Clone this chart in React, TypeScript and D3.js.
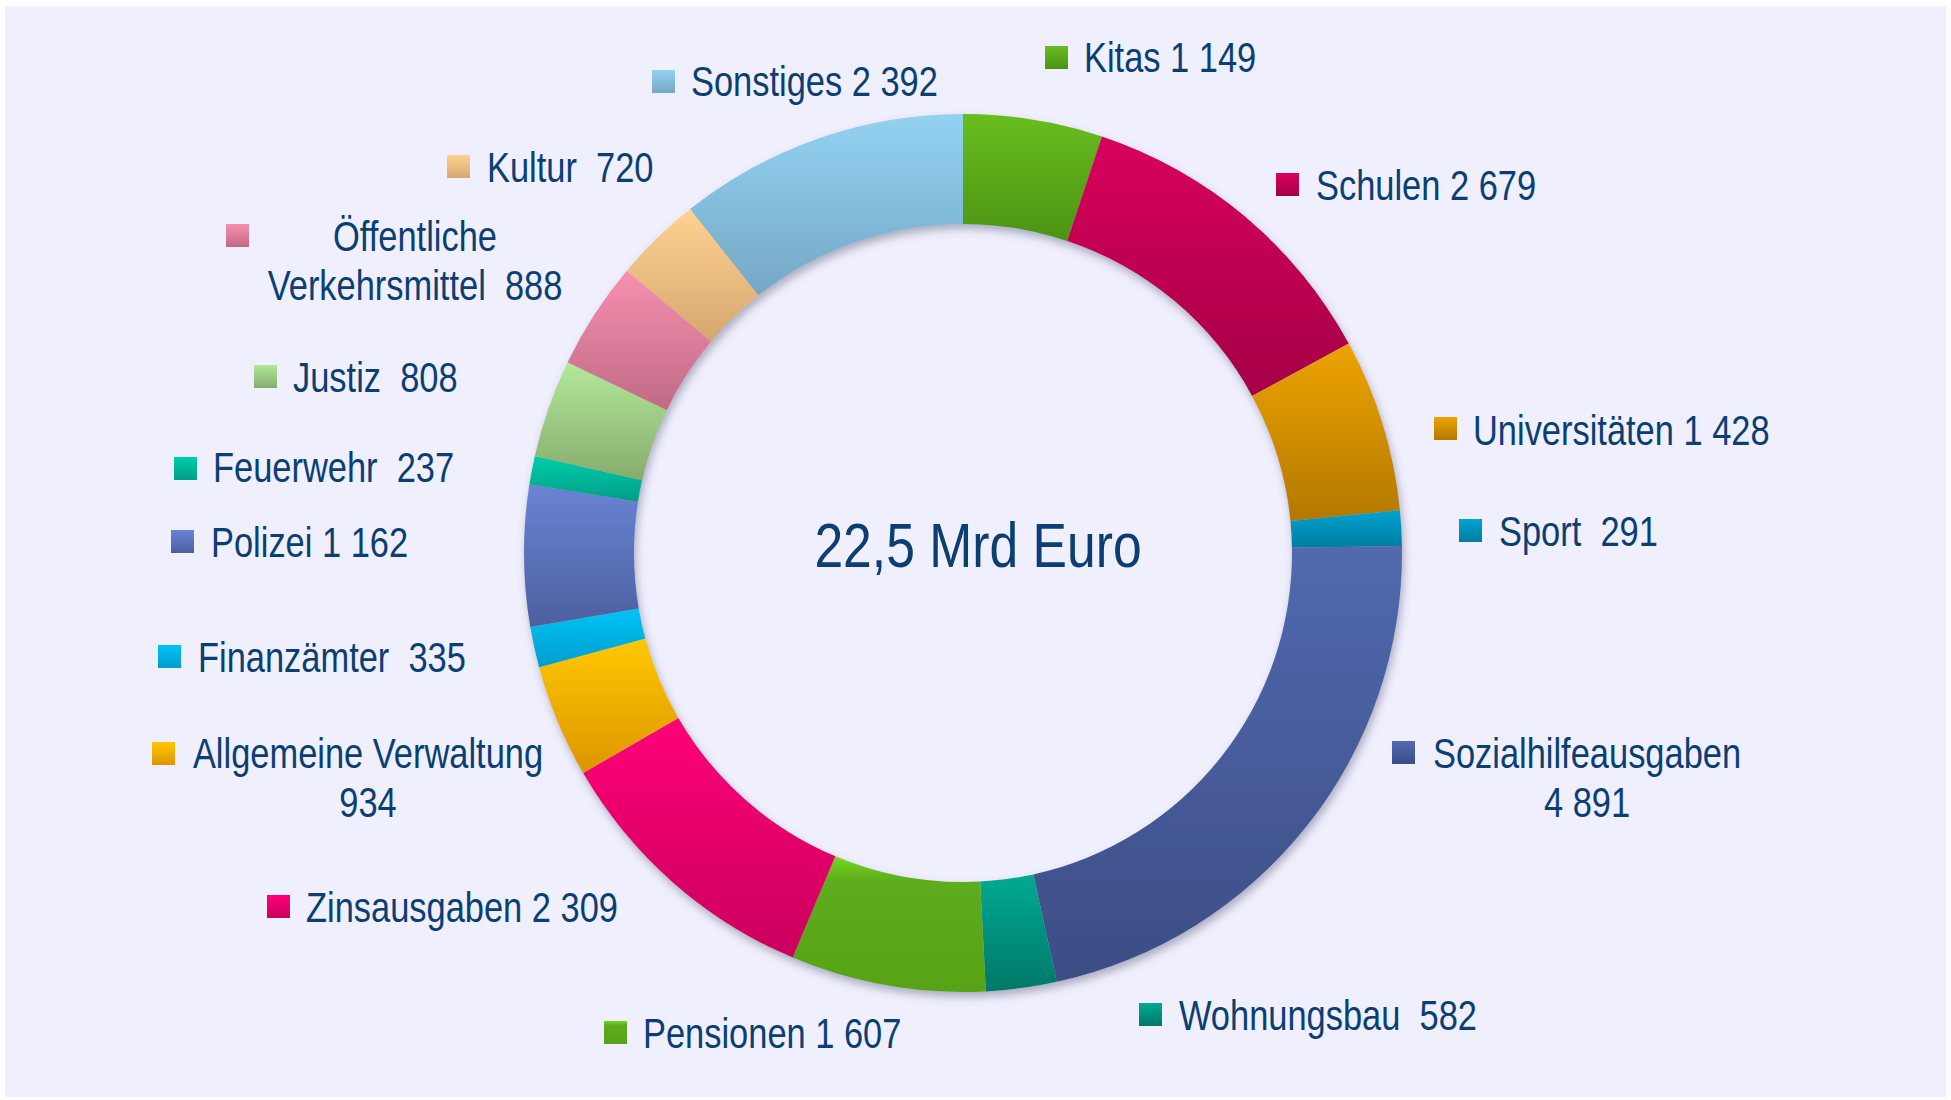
import React from 'react';
import * as d3 from 'd3';

// Haushalt, Ausgaben in Mio Euro (clockwise from 12 o'clock)
const categories = [
  'Kitas', 'Schulen', 'Universitäten', 'Sport', 'Sozialhilfeausgaben', 'Wohnungsbau',
  'Pensionen', 'Zinsausgaben', 'Allgemeine Verwaltung', 'Finanzämter', 'Polizei',
  'Feuerwehr', 'Justiz', 'Öffentliche Verkehrsmittel', 'Kultur', 'Sonstiges',
];
const values = [1149, 2679, 1428, 291, 4891, 582, 1607, 2309, 934, 335, 1162, 237, 808, 888, 720, 2392];
const totalLabel = '22,5 Mrd Euro';

// gradient colours, top -> bottom
const colorsTop = [
  '#67be1e', '#d8005d', '#eda300', '#00a3d3', '#5269b0', '#00aa92', '#78d822', '#ff0077',
  '#ffc800', '#00c3f7', '#6984d5', '#00cdaa', '#b3e898', '#f890b0', '#ffd291', '#93d2f2',
];
const colorsBottom = [
  '#4d9313', '#a50046', '#b37800', '#007c9e', '#3c4d84', '#007868', '#57a318', '#c9005d',
  '#dd9500', '#009ecc', '#4d5f9e', '#009e86', '#86ac6e', '#c06a85', '#d5a76f', '#75a7c5',
];
// Pensionen has a short light band at the top, then flat green
const pensionenMid = '#5eac1b';

// manual label placement (square top-left, text anchor, first baseline, words on line 1)
const labelLayout = [
  { sx: 1045, sy: 46, tx: 1084, ty: 72 },
  { sx: 1276, sy: 173, tx: 1316, ty: 200 },
  { sx: 1434, sy: 417, tx: 1473, ty: 445 },
  { sx: 1459, sy: 519, tx: 1499, ty: 546 },
  { sx: 1392, sy: 741, tx: 1587, ty: 768, center: true, breakAfter: 1 },
  { sx: 1139, sy: 1003, tx: 1179, ty: 1030 },
  { sx: 604, sy: 1021, tx: 643, ty: 1048 },
  { sx: 267, sy: 895, tx: 306, ty: 922 },
  { sx: 152, sy: 742, tx: 368, ty: 768, center: true, breakAfter: 2 },
  { sx: 158, sy: 645, tx: 198, ty: 672 },
  { sx: 171, sy: 530, tx: 211, ty: 557 },
  { sx: 174, sy: 457, tx: 213, ty: 482 },
  { sx: 254, sy: 365, tx: 293, ty: 392 },
  { sx: 226, sy: 224, tx: 415, ty: 251, center: true, breakAfter: 1 },
  { sx: 447, sy: 155, tx: 487, ty: 182 },
  { sx: 652, sy: 70, tx: 691, ty: 96 },
];

const width = 1951;
const height = 1100;
const cx = 963;
const cy = 553;
const outerR = 439;
const innerR = 329;
const textColor = '#0b3f74';
const fontFamily = "'Liberation Sans', Arial, sans-serif";
const narrow = 0.82; // Arial Narrow look
const fontSize = 42;
const lineHeight = 49;
const squareSize = 23;

const fmt = d3.formatLocale({ decimal: ',', thousands: ' ', grouping: [3], currency: ['', ' €'] }).format(',d');

const NarrowText = ({ x, y, size, anchor, children }) => (
  <g transform={'translate(' + x + ',' + y + ') scale(' + narrow + ',1)'}>
    <text
      x={0}
      y={0}
      textAnchor={anchor}
      fontFamily={fontFamily}
      fontSize={size}
      fill={textColor}
      style={{ whiteSpace: 'pre' }}
    >
      {children}
    </text>
  </g>
);

const App = () => {
  const data = categories.map((name, i) => ({ name, value: values[i], i }));

  const pie = d3.pie<any>()
    .sort(null)
    .value(d => d.value)
    .startAngle(0)
    .endAngle(2 * Math.PI);

  const arc = d3.arc<any>()
    .innerRadius(innerR)
    .outerRadius(outerR);

  const arcs = pie(data);

  const labelLines = (d, layout) => {
    const sep = d.value < 1000 ? '  ' : ' ';
    const words = d.name.split(' ');
    const num = fmt(d.value);
    if (!layout.breakAfter) return [d.name + sep + num];
    const first = words.slice(0, layout.breakAfter).join(' ');
    const rest = words.slice(layout.breakAfter).join(' ');
    return [first, rest ? rest + sep + num : num];
  };

  return (
    <svg width={width} height={height} style={{ position: 'absolute', left: 0, top: 0, background: '#ffffff' }}>
      <defs>
        {data.map((d, i) => (
          <linearGradient key={i} id={'grad' + i} x1="0" y1="0" x2="0" y2="1">
            <stop offset="0%" stopColor={colorsTop[i]} />
            {d.name === 'Pensionen' && <stop offset="18%" stopColor={pensionenMid} />}
            <stop offset="100%" stopColor={colorsBottom[i]} />
          </linearGradient>
        ))}
        <filter id="ringShadow" x="-10%" y="-10%" width="120%" height="120%">
          <feDropShadow dx="2" dy="5" stdDeviation="4" floodColor="#5a5a78" floodOpacity="0.45" />
        </filter>
      </defs>

      <rect x={5} y={6} width={1941} height={1091} fill="#efeffd" />

      <g transform={'translate(' + cx + ',' + cy + ')'} filter="url(#ringShadow)">
        {arcs.map((a, i) => (
          <path key={i} d={arc(a) as string} fill={'url(#grad' + i + ')'} />
        ))}
      </g>

      <NarrowText x={978} y={567} size={63} anchor="middle">{totalLabel}</NarrowText>

      {data.map((d, i) => {
        const layout = labelLayout[i];
        const lines = labelLines(d, layout);
        return (
          <g key={i}>
            <rect x={layout.sx} y={layout.sy} width={squareSize} height={squareSize} fill={'url(#grad' + i + ')'} />
            {lines.map((line, j) => (
              <NarrowText
                key={j}
                x={layout.tx}
                y={layout.ty + j * lineHeight}
                size={fontSize}
                anchor={layout.center ? 'middle' : 'start'}
              >
                {line}
              </NarrowText>
            ))}
          </g>
        );
      })}
    </svg>
  );
};

export default App;
